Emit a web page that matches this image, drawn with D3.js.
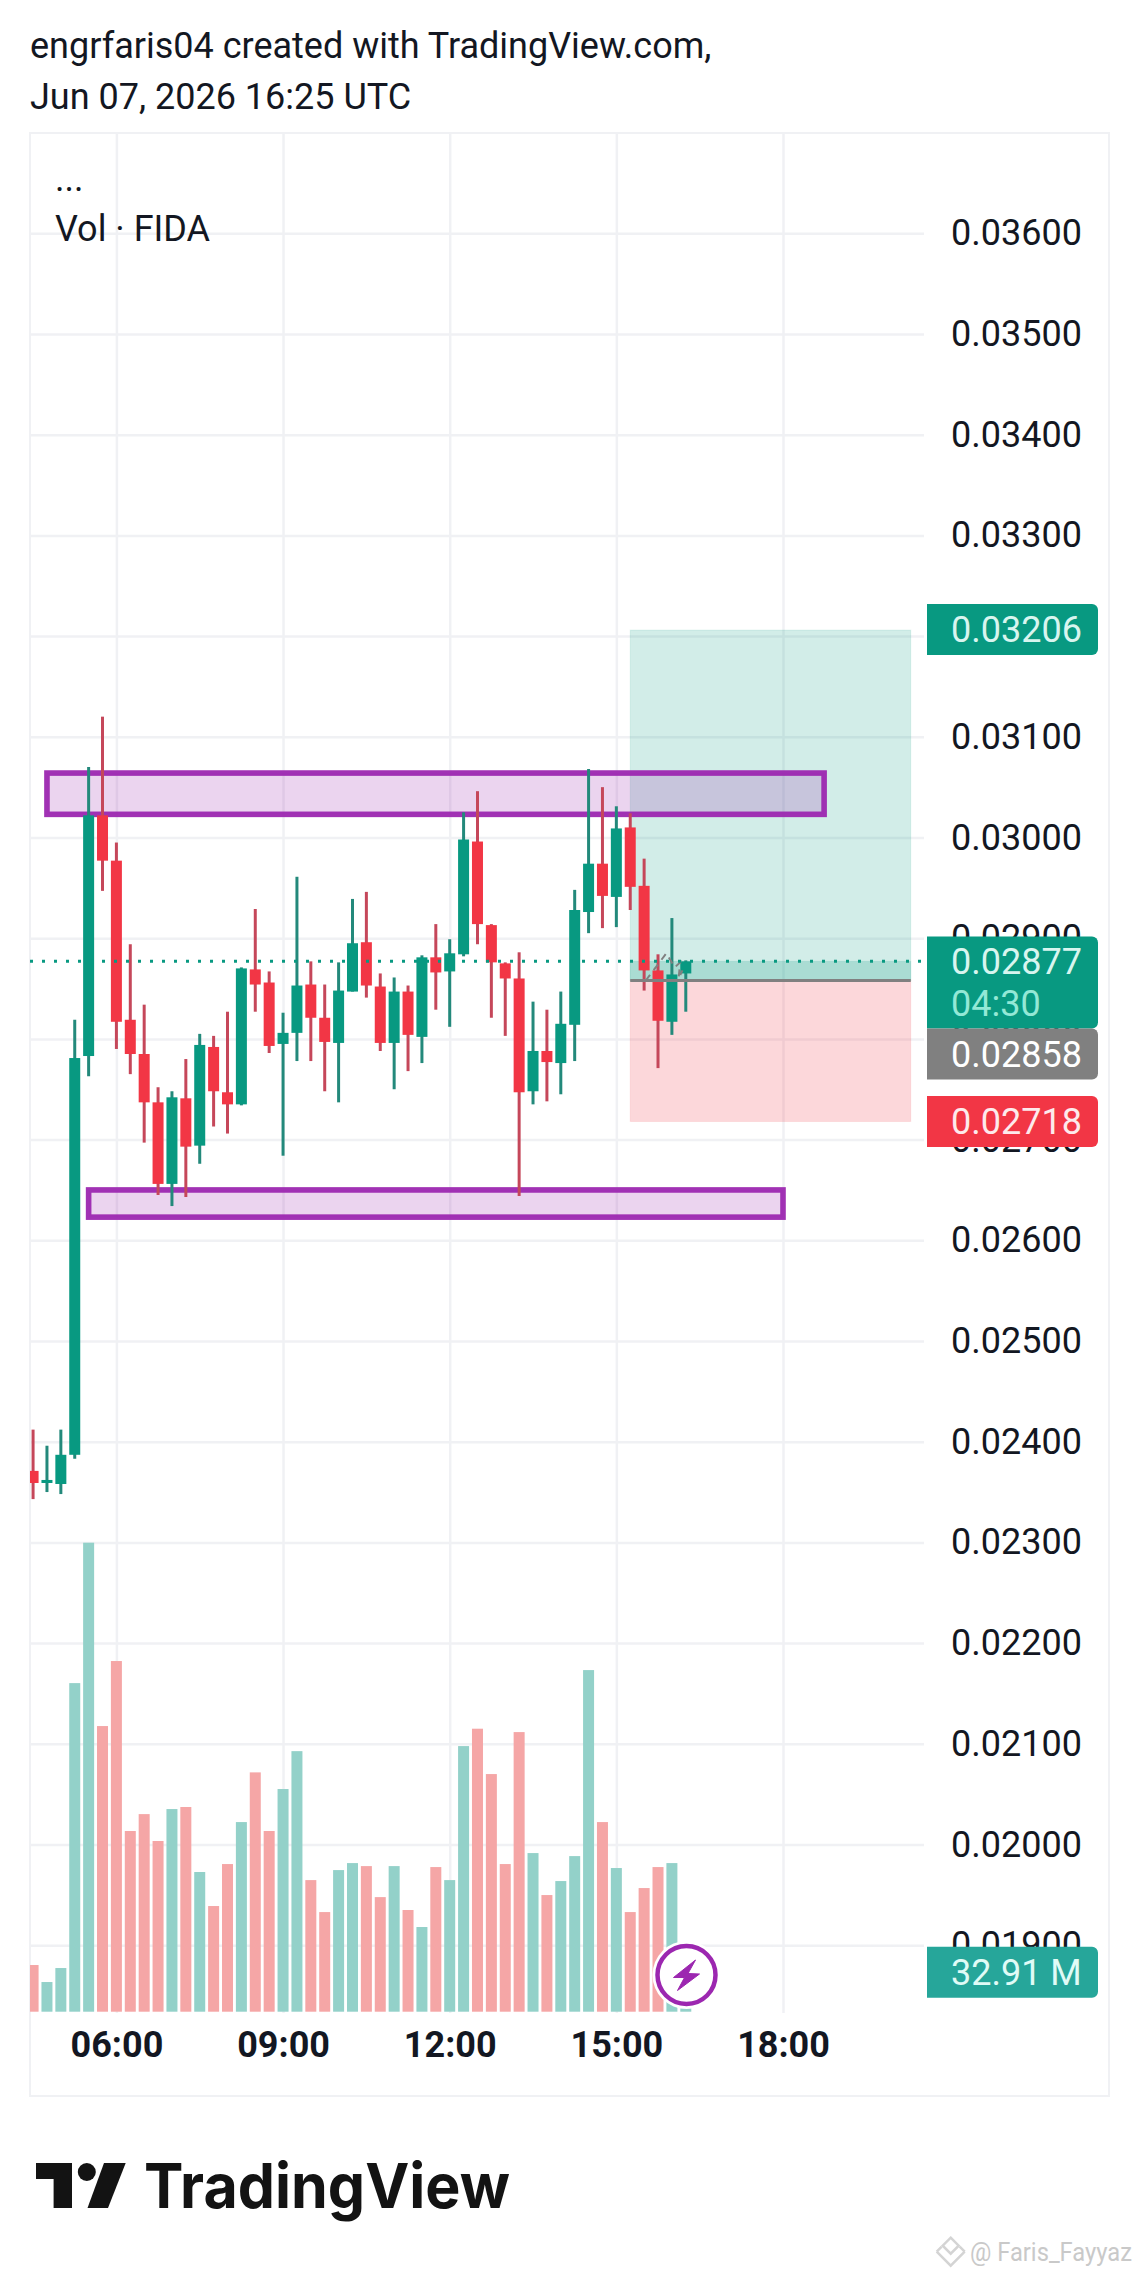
<!DOCTYPE html>
<html>
<head>
<meta charset="utf-8">
<title>FIDA</title>
<script src="https://cdn.jsdelivr.net/npm/d3@7"></script>
<style>
  html, body { margin: 0; padding: 0; background: #fff; }
  svg { display: block; }
  text { font-family: Roboto, sans-serif; fill: #131722; }
  .grid line { stroke: #f0f1f4; stroke-width: 2.5; }
  .grid .domain { display: none; }
  .axis .domain, .axis line { display: none; }
  .axis text { font-size: 36px; fill: #131722; }
  .axis-time text { font-weight: 700; }
</style>
</head>
<body>
<svg id="chart" width="1140" height="2277"></svg>
<script>
const startHour = 4.5
const barHours = 0.25
const opens = [.02371, .02359, .02358, .02387, .02783, .03022, .02977, .02819, .02785, .02737, .02656, .02741,
  .02694, .02792, .02747, .02735, .02869, .02856, .02795, .02806, .02854, .02821, .02796, .02847,
  .02896, .02852, .02796, .02847, .02802, .02881, .02867, .02884, .02996, .02913, .02875, .02860,
  .02748, .02788, .02776, .02814, .02926, .02974, .02941, .03010, .02952, .02868, .02817, .02865]
const highs = [.02412, .02396, .02412, .02819, .03070, .03120, .02995, .02894, .02834, .02752, .02748, .02780,
  .02805, .02803, .02827, .02871, .02929, .02867, .02826, .02961, .02877, .02854, .02876, .02939,
  .02946, .02865, .02861, .02853, .02883, .02914, .02899, .03025, .03046, .02914, .02876, .02886,
  .02837, .02829, .02847, .02948, .03068, .03050, .03031, .03024, .02979, .02884, .02920, .02878]
const lows = [.02343, .02350, .02348, .02383, .02763, .02947, .02790, .02765, .02697, .02645, .02634, .02643,
  .02676, .02713, .02706, .02734, .02827, .02786, .02684, .02778, .02778, .02748, .02737, .02847,
  .02841, .02788, .02750, .02768, .02776, .02829, .02812, .02882, .02894, .02821, .02803, .02644,
  .02735, .02738, .02745, .02778, .02905, .02910, .02911, .02928, .02848, .02771, .02804, .02827]
const closes = [.02359, .02362, .02387, .02781, .03022, .02977, .02817, .02785, .02737, .02656, .02742, .02693,
  .02794, .02748, .02735, .02870, .02854, .02793, .02806, .02853, .02821, .02797, .02848, .02895,
  .02853, .02796, .02847, .02804, .02881, .02866, .02885, .02998, .02914, .02876, .02860, .02747,
  .02788, .02777, .02815, .02928, .02974, .02942, .03009, .02951, .02868, .02818, .02864, .02877]
const volumes = [38.7, 24.6, 36.2, 272.4, 388.8, 236.8, 290.7, 149.8, 163.8, 141.5, 168, 169.7,
  115.8, 87.6, 122.4, 157.2, 198.4, 149.8, 184.6, 216, 109.1, 82.6, 117.4, 123.2,
  120.7, 95, 120.7, 84.3, 70.2, 119.9, 109.1, 220.2, 234.6, 197, 122.4, 231.8,
  131.5, 96.7, 108.3, 129, 283.2, 157.2, 119.1, 82.6, 102.5, 119.9, 123.2, 32.91]

const priceTicks = d3.range(19, 37).map(d => d / 1000)
const timeTicks = [6, 9, 12, 15, 18]

// zones drawn on the chart: [fromHour, toHour, topPrice, bottomPrice]
const resistanceZone = [4.75, 18.74, .03064, .03023]
const supportZone = [5.5, 18.0, .02650, .02623]

const lastPrice = .02877
const entryPrice = .02858
const targetPrice = .03206
const stopPrice = .02718
const positionHours = [15.25, 20.3]
const pathHours = [15.53, 15.9, 16.05, 16.15, 16.12, 16.19]
const pathPrices = [.02858, .02885, .02871, .02876, .0286, .02868]

const TEAL = '#089981'
const RED = '#f23645'
const PURPLE = '#9c27b0'
const frame = { left: 30, right: 1109, top: 133, bottom: 2096 }
const plotRight = 924
const plotBottom = 2013
const bodyWidth = 11

const svg = d3.select('#chart')
const hourOf = i => startHour + i * barHours
const x = d3.scaleLinear().domain([6, 18]).range([116.4, 783])
const y = d3.scaleLinear().domain([.036, .019]).range([233.3, 1945.2])
const v = d3.scaleLinear().domain([0, 388.8]).range([2011.7, 1542.7])
const bars = d3.range(opens.length)
const isUp = i => closes[i] >= opens[i]

svg.append('defs').append('clipPath').attr('id', 'plot')
  .append('rect')
  .attr('x', frame.left).attr('y', frame.top)
  .attr('width', plotRight - frame.left).attr('height', plotBottom - frame.top)

// frame
svg.append('rect')
  .attr('x', frame.left).attr('y', frame.top)
  .attr('width', frame.right - frame.left).attr('height', frame.bottom - frame.top)
  .attr('fill', '#fff').attr('stroke', '#f0f1f4').attr('stroke-width', 2)

// grid
svg.append('g').attr('class', 'grid')
  .attr('transform', `translate(${frame.left},0)`)
  .call(d3.axisRight(y).tickValues(priceTicks).tickSize(plotRight - frame.left).tickFormat(''))
svg.append('g').attr('class', 'grid')
  .attr('transform', `translate(0,${plotBottom})`)
  .call(d3.axisTop(x).tickValues(timeTicks).tickSize(plotBottom - frame.top).tickFormat(''))

// price axis, tags go over it further down
svg.append('g').attr('class', 'axis')
  .attr('transform', 'translate(951,0)')
  .call(d3.axisRight(y).tickValues(priceTicks).tickSize(0).tickPadding(0).tickFormat(d3.format('.5f')))

svg.append('g').attr('class', 'axis axis-time')
  .attr('transform', 'translate(0,2025)')
  .call(d3.axisBottom(x).tickValues(timeTicks).tickSize(0).tickPadding(0).tickFormat(d => `${d3.format('02')(d)}:00`))
  .selectAll('text').attr('dy', '0.9em')

const marks = svg.append('g').attr('clip-path', 'url(#plot)')

// volume
marks.append('g').selectAll('rect').data(bars).join('rect')
  .attr('x', i => x(hourOf(i)) - bodyWidth / 2)
  .attr('width', bodyWidth)
  .attr('y', i => v(volumes[i]))
  .attr('height', i => v(0) - v(volumes[i]))
  .attr('fill', i => isUp(i) ? '#93d1c9' : '#f5a6a6')

// long position tool
const posX = x(positionHours[0])
const posW = x(positionHours[1]) - posX
const posRect = (top, bottom, color, alpha) => marks.append('rect')
  .attr('x', posX).attr('width', posW)
  .attr('y', y(top)).attr('height', y(bottom) - y(top))
  .attr('fill', color).attr('fill-opacity', alpha)
  .attr('stroke', color).attr('stroke-opacity', 0.1).attr('stroke-width', 1)
posRect(targetPrice, entryPrice, TEAL, 0.18)
posRect(entryPrice, stopPrice, RED, 0.2)
posRect(lastPrice, entryPrice, TEAL, 0.2)

// zones
const drawZone = z => marks.append('rect')
  .attr('x', x(z[0])).attr('width', x(z[1]) - x(z[0]))
  .attr('y', y(z[2])).attr('height', y(z[3]) - y(z[2]))
  .attr('fill', PURPLE).attr('fill-opacity', 0.2)
  .attr('stroke', PURPLE).attr('stroke-opacity', 0.95).attr('stroke-width', 5.6)
drawZone(resistanceZone)
drawZone(supportZone)

svg.append('path')
  .attr('d', d3.line().x(d => x(d[0])).y(d => y(d[1]))(d3.zip(pathHours, pathPrices)))
  .attr('fill', 'none').attr('stroke', '#808080').attr('stroke-width', 2).attr('stroke-dasharray', '7 6')

svg.append('line')
  .attr('x1', posX).attr('x2', posX + posW)
  .attr('y1', y(entryPrice)).attr('y2', y(entryPrice))
  .attr('stroke', '#808080').attr('stroke-width', 3)

// candles
const candles = marks.append('g')
candles.selectAll('line').data(bars).join('line')
  .attr('x1', i => x(hourOf(i))).attr('x2', i => x(hourOf(i)))
  .attr('y1', i => y(highs[i])).attr('y2', i => y(lows[i]))
  .attr('stroke', i => isUp(i) ? '#23897b' : '#c5475a')
  .attr('stroke-width', 3)
candles.selectAll('rect').data(bars).join('rect')
  .attr('x', i => x(hourOf(i)) - bodyWidth / 2)
  .attr('width', bodyWidth)
  .attr('y', i => y(Math.max(opens[i], closes[i])))
  .attr('height', i => Math.max(2.5, Math.abs(y(opens[i]) - y(closes[i]))))
  .attr('fill', i => isUp(i) ? TEAL : RED)

// last price dots
svg.append('line')
  .attr('x1', frame.left).attr('x2', plotRight)
  .attr('y1', y(lastPrice)).attr('y2', y(lastPrice))
  .attr('stroke', TEAL).attr('stroke-width', 3).attr('stroke-dasharray', '3 9')

// tags on the price axis
const tag = (top, height, color) => svg.append('path')
  .attr('d', `M927,${top}H1092a6,6 0 0 1 6,6V${top + height - 6}a6,6 0 0 1 -6,6H927Z`)
  .attr('fill', color)
const tagText = (cy, label, color) => svg.append('text')
  .attr('x', 951).attr('y', cy).attr('dy', '0.355em')
  .attr('font-size', 36).style('fill', color).text(label)

tag(y(targetPrice) - 26, 51, TEAL)
tagText(y(targetPrice) - 1, d3.format('.5f')(targetPrice), '#d8f5ef')
tag(936.4, 92.2, TEAL)
tagText(y(lastPrice), d3.format('.5f')(lastPrice), '#d8f5ef')
tagText(1003.6, '04:30', '#93e8d6')
tag(1028.6, 51, '#808080')
tagText(1054.5, d3.format('.5f')(entryPrice), '#ffffff')
tag(y(stopPrice) - 25.5, 51, RED)
tagText(y(stopPrice), d3.format('.5f')(stopPrice), '#fdeaec')
tag(1946.7, 51, '#26a69a')
tagText(v(volumes[47]) + 0.5, `${d3.format('.2f')(volumes[47])} M`, '#e0fbf6')

// bolt badge
const badge = svg.append('g').attr('transform', 'translate(686.5,1975)')
badge.append('circle').attr('r', 34).attr('fill', '#fff')
badge.append('circle').attr('r', 29).attr('fill', '#fff').attr('stroke', PURPLE).attr('stroke-width', 4.5)
badge.append('path')
  .attr('d', 'M9,-15L-13,2.5L-2,2.5L-9,15.5L13,-1L1.5,-1.5Z')
  .attr('fill', PURPLE).attr('stroke', PURPLE).attr('stroke-width', 1).attr('stroke-linejoin', 'round')

// titles
svg.append('text').attr('x', 30).attr('y', 58).attr('font-size', 36).text('engrfaris04 created with TradingView.com,')
svg.append('text').attr('x', 30).attr('y', 109).attr('font-size', 36).text('Jun 07, 2026 16:25 UTC')
svg.append('text').attr('x', 55).attr('y', 191).attr('font-size', 36).text('...')
svg.append('text').attr('x', 55).attr('y', 241).attr('font-size', 36).text('Vol · FIDA')

// logo
const logo = svg.append('g').attr('fill', '#131313')
logo.append('path').attr('d', 'M36,2163H72V2208H53.6V2179H36Z')
logo.append('circle').attr('cx', 86.8).attr('cy', 2172).attr('r', 9)
logo.append('path').attr('d', 'M104,2163H125.7L108,2208H87.5Z')
svg.append('text')
  .attr('x', 144).attr('y', 2208)
  .attr('textLength', 366).attr('lengthAdjust', 'spacingAndGlyphs')
  .attr('font-size', 62).attr('font-weight', 700)
  .style('font-family', 'Inter, sans-serif').style('fill', '#131313')
  .text('TradingView')

// watermark
const mark = svg.append('g').attr('transform', 'translate(950.7,2251.7)')
  .attr('fill', 'none').attr('stroke', '#d4d4d4').attr('stroke-width', 2.5)
mark.append('path').attr('d', 'M0,-14L8,-6L0,2L-8,-6Z')
mark.append('path').attr('d', 'M-14,0L-9,-5M14,0L9,-5M-14,0L0,14L14,0')
svg.append('text')
  .attr('x', 970).attr('y', 2261)
  .attr('font-size', 25)
  .attr('textLength', 162).attr('lengthAdjust', 'spacingAndGlyphs')
  .style('fill', '#c9c9c9')
  .text('@ Faris_Fayyaz')
</script>
</body>
</html>
